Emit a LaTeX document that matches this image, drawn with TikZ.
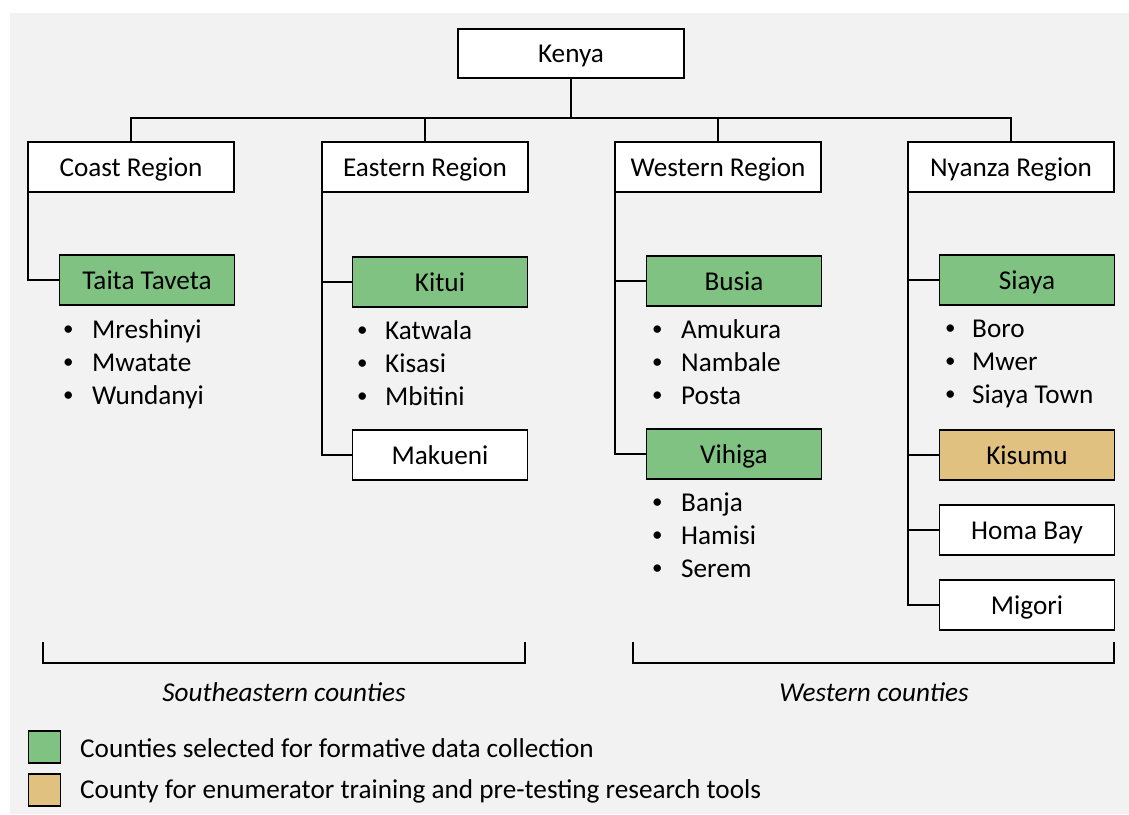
\documentclass[tikz,border=0pt]{standalone}
\usepackage{fontspec}
\setmainfont{Carlito}
\definecolor{bggray}{RGB}{242,242,242}
\definecolor{selgreen}{RGB}{128,194,130}
\definecolor{trainsand}{RGB}{224,193,128}
\newcommand{\listdot}{\raisebox{2.6pt}{\fontsize{21}{21}\selectfont •}}
\begin{document}
\begin{tikzpicture}[x=1pt,y=-1pt,
  every node/.style={font=\fontsize{27.2}{32}\selectfont},
  lines/.style={line width=1.6pt, draw=black},
  box/.style={lines, fill=white, rectangle, inner sep=0pt, outer sep=0pt,
    minimum height=50pt, text height=20pt, text depth=2pt},
  regbox/.style={box, minimum width=206pt},
  cbox/.style={box, minimum width=175pt},
  green/.style={fill=selgreen},
  sand/.style={fill=trainsand},
  item/.style={anchor=base west, inner sep=0pt},
  caption/.style={font=\fontsize{27.2}{32}\selectfont\itshape, inner sep=0pt},
  keybox/.style={lines, rectangle, minimum size=32pt, inner sep=0pt, outer sep=0pt},
  keytext/.style={anchor=west, inner sep=0pt, text height=20pt, text depth=2pt}
]
\useasboundingbox (0,0) rectangle (1129,814);
\fill[white] (0,0) rectangle (1129,814);
\fill[bggray] (10,13) rectangle (1129,814);

% top level
\node[box, minimum width=226pt, minimum height=49pt] (kenya) at (571,53.5) {Kenya};

% regions
\node[regbox] (coast)   at (131,167) {Coast Region};
\node[regbox] (eastern) at (425,167) {Eastern Region};
\node[regbox] (western) at (718,167) {Western Region};
\node[regbox] (nyanza)  at (1011,167) {Nyanza Region};

% tree from Kenya to the regions
\coordinate (kbus) at (571,118);
\draw[lines] (kenya.south) -- (kbus);
\draw[lines] (coast.north) -- (coast.north |- kbus) -- (nyanza.north |- kbus) -- (nyanza.north);
\draw[lines] (eastern.north) -- (eastern.north |- kbus);
\draw[lines] (western.north) -- (western.north |- kbus);

% counties
\node[cbox, green] (taita)   at (147,280) {Taita Taveta};
\node[cbox, green] (kitui)   at (440,282) {Kitui};
\node[cbox]        (makueni) at (440,455) {Makueni};
\node[cbox, green] (busia)   at (734,281) {Busia};
\node[cbox, green] (vihiga)  at (734,454) {Vihiga};
\node[cbox, green] (siaya)   at (1027,280) {Siaya};
\node[cbox, sand]  (kisumu)  at (1027,455) {Kisumu};
\node[cbox]        (homabay) at (1027,530) {Homa Bay};
\node[cbox]        (migori)  at (1027,605) {Migori};

% region-to-county connectors
\draw[lines] (coast.south west) |- (taita.west);
\draw[lines] (eastern.south west) |- (kitui.west);
\draw[lines] (eastern.south west) |- (makueni.west);
\draw[lines] (western.south west) |- (busia.west);
\draw[lines] (western.south west) |- (vihiga.west);
\draw[lines] (nyanza.south west) |- (siaya.west);
\draw[lines] (nyanza.south west) |- (kisumu.west);
\draw[lines] (nyanza.south west) |- (homabay.west);
\draw[lines] (nyanza.south west) |- (migori.west);

% sub-county lists: name / bullet x / text x / baseline y / text
\foreach \n/\bx/\tx/\y/\t in {
  ta1/63/92/338/Mreshinyi, ta2/63/92/371/Mwatate, ta3/63/92/404/Wundanyi,
  ki1/357/385/339/Katwala, ki2/357/385/372/Kisasi, ki3/357/385/405/Mbitini,
  bu1/652/681/338/Amukura, bu2/652/681/371/Nambale, bu3/652/681/404/Posta,
  vi1/652/681/511/Banja, vi2/652/681/544/Hamisi, vi3/652/681/577/Serem,
  si1/945/972/337/Boro, si2/945/972/370/Mwer, si3/945/972/403/Siaya Town}{
  \node[item] (\n b) at (\bx,\y) {\listdot};
  \node[item] (\n) at (\tx,\y) {\t};
}

% group brackets
\draw[lines] (43,642) -- (43,663) -- (525,663) -- (525,642);
\draw[lines] (633,642) -- (633,663) -- (1114,663) -- (1114,642);
\node[caption] (se) at (284,692) {Southeastern counties};
\node[caption] (we) at (874,692) {Western counties};

% legend
\node[keybox, fill=selgreen] (kg) at (44.5,747) {};
\node[keytext] (kgt) at (80,748) {Counties selected for formative data collection};
\node[keybox, fill=trainsand] (ks) at (44.5,790) {};
\node[keytext] (kst) at (80,789) {County for enumerator training and pre-testing research tools};
\end{tikzpicture}
\end{document}
